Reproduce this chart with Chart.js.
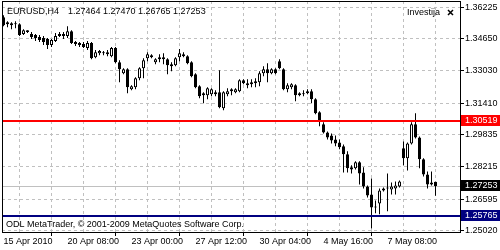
<!DOCTYPE html>
<html>
<head>
<meta charset="utf-8">
<script src="https://cdn.jsdelivr.net/npm/chart.js@4.4.1/dist/chart.umd.min.js"></script>
<style>
  html, body { margin: 0; padding: 0; background: #fff; }
</style>
</head>
<body>
<canvas id="chart" width="500" height="250"></canvas>
<script>
// EURUSD H4 bars, oldest first
const openP = [
  1.3572, 1.3547, 1.3542, 1.3542, 1.3537, 1.3487, 1.3507, 1.3487, 1.3482, 1.3472,
  1.3467, 1.3462, 1.3432, 1.3452, 1.3477, 1.3487, 1.3477, 1.3502, 1.3447, 1.3442,
  1.3437, 1.3417, 1.3442, 1.3371, 1.3391, 1.3396, 1.3396, 1.3376, 1.3417, 1.3346,
  1.3291, 1.3311, 1.3211, 1.3221, 1.3266, 1.3316, 1.3366, 1.3371, 1.3346, 1.3361,
  1.3371, 1.3361, 1.3326, 1.3331, 1.3371, 1.3376, 1.3376, 1.3346, 1.3286, 1.3226,
  1.3190, 1.3180, 1.3185, 1.3185, 1.3195, 1.3115, 1.3185, 1.3201, 1.3195, 1.3201,
  1.3256, 1.3231, 1.3246, 1.3241, 1.3246, 1.3291, 1.3311, 1.3291, 1.3311, 1.3351,
  1.3311, 1.3211, 1.3221, 1.3231, 1.3180, 1.3190, 1.3190, 1.3201, 1.3160, 1.3095,
  1.3035, 1.2994, 1.2979, 1.2959, 1.2944, 1.2924, 1.2884, 1.2819, 1.2814, 1.2844,
  1.2793, 1.2723, 1.2683, 1.2618, 1.2638, 1.2703, 1.2718, 1.2708, 1.2713, 1.2723,
  1.2914, 1.2864, 1.2939, 1.3035, 1.2969, 1.2859, 1.2783, 1.2733, 1.27464
];
const highP = [
  1.3582, 1.3552, 1.3547, 1.3552, 1.3542, 1.3512, 1.3507, 1.3497, 1.3487, 1.3482,
  1.3477, 1.3467, 1.3462, 1.3492, 1.3497, 1.3497, 1.3527, 1.3507, 1.3452, 1.3447,
  1.3447, 1.3452, 1.3447, 1.3407, 1.3407, 1.3402, 1.3407, 1.3422, 1.3422, 1.3356,
  1.3316, 1.3316, 1.3231, 1.3271, 1.3321, 1.3366, 1.3396, 1.3386, 1.3366, 1.3386,
  1.3391, 1.3366, 1.3346, 1.3371, 1.3412, 1.3396, 1.3381, 1.3351, 1.3291, 1.3231,
  1.3195, 1.3221, 1.3216, 1.3206, 1.3306, 1.3201, 1.3216, 1.3216, 1.3216, 1.3261,
  1.3261, 1.3261, 1.3261, 1.3266, 1.3301, 1.3326, 1.3341, 1.3316, 1.3316, 1.3361,
  1.3316, 1.3241, 1.3241, 1.3236, 1.3195, 1.3206, 1.3211, 1.3211, 1.3165, 1.3100,
  1.3045, 1.2999, 1.2989, 1.2979, 1.2959, 1.2934, 1.2899, 1.2829, 1.2849, 1.2849,
  1.2819, 1.2728, 1.2763, 1.2653, 1.2713, 1.2718, 1.2788, 1.2743, 1.2748, 1.2753,
  1.2949, 1.2944, 1.3045, 1.3090, 1.2974, 1.2864, 1.2798, 1.2798, 1.27470
];
const lowP = [
  1.3527, 1.3522, 1.3512, 1.3517, 1.3477, 1.3482, 1.3492, 1.3462, 1.3452, 1.3447,
  1.3432, 1.3412, 1.3422, 1.3447, 1.3472, 1.3462, 1.3467, 1.3437, 1.3427, 1.3422,
  1.3417, 1.3407, 1.3361, 1.3366, 1.3381, 1.3381, 1.3376, 1.3371, 1.3341, 1.3246,
  1.3286, 1.3190, 1.3206, 1.3211, 1.3256, 1.3266, 1.3351, 1.3366, 1.3336, 1.3346,
  1.3336, 1.3286, 1.3301, 1.3326, 1.3351, 1.3371, 1.3336, 1.3271, 1.3216, 1.3165,
  1.3140, 1.3160, 1.3175, 1.3175, 1.3115, 1.3105, 1.3175, 1.3180, 1.3190, 1.3195,
  1.3236, 1.3216, 1.3221, 1.3221, 1.3226, 1.3276, 1.3246, 1.3286, 1.3286, 1.3311,
  1.3206, 1.3195, 1.3211, 1.3150, 1.3175, 1.3175, 1.3185, 1.3140, 1.3085, 1.3025,
  1.2989, 1.2959, 1.2939, 1.2924, 1.2909, 1.2793, 1.2793, 1.2788, 1.2808, 1.2733,
  1.2713, 1.2668, 1.2512, 1.2588, 1.2583, 1.2698, 1.2598, 1.2683, 1.2683, 1.2718,
  1.2829, 1.2803, 1.2934, 1.2964, 1.2814, 1.2773, 1.2713, 1.2728, 1.26765
];
const closeP = [
  1.3532, 1.3537, 1.3532, 1.3537, 1.3482, 1.3507, 1.3497, 1.3472, 1.3467, 1.3457,
  1.3447, 1.3432, 1.3457, 1.3477, 1.3487, 1.3477, 1.3502, 1.3442, 1.3437, 1.3432,
  1.3422, 1.3442, 1.3366, 1.3396, 1.3402, 1.3391, 1.3386, 1.3417, 1.3346, 1.3311,
  1.3311, 1.3221, 1.3226, 1.3266, 1.3316, 1.3356, 1.3386, 1.3381, 1.3361, 1.3371,
  1.3361, 1.3331, 1.3336, 1.3366, 1.3391, 1.3386, 1.3341, 1.3276, 1.3221, 1.3175,
  1.3180, 1.3216, 1.3211, 1.3195, 1.3120, 1.3195, 1.3201, 1.3211, 1.3211, 1.3256,
  1.3241, 1.3241, 1.3236, 1.3251, 1.3291, 1.3311, 1.3291, 1.3311, 1.3291, 1.3316,
  1.3211, 1.3231, 1.3236, 1.3180, 1.3190, 1.3185, 1.3201, 1.3160, 1.3090, 1.3050,
  1.2994, 1.2969, 1.2954, 1.2939, 1.2919, 1.2884, 1.2814, 1.2808, 1.2844, 1.2788,
  1.2723, 1.2678, 1.2618, 1.2623, 1.2703, 1.2713, 1.2713, 1.2723, 1.2728, 1.2748,
  1.2864, 1.2939, 1.3035, 1.2969, 1.2859, 1.2783, 1.2733, 1.2743, 1.27253
];

const xTickLabels = ['15 Apr 2010', '20 Apr 08:00', '23 Apr 00:00', '27 Apr 12:00',
                     '30 Apr 04:00', '4 May 16:00', '7 May 08:00'];
const yTickValues = [1.25020, 1.26595, 1.28215, 1.29835, 1.31410, 1.33030, 1.34650, 1.36225];

const redLevel = 1.30519;
const blueLevel = 1.25765;
const bidPrice = 1.27253;

const titleText = 'EURUSD,H4';
const lastBarText = '1.27464 1.27470 1.26765 1.27253';
const indicatorText = 'Investija';
const copyrightText = 'ODL MetaTrader, \u00a9 2001-2009 MetaQuotes Software Corp.';

const FONT = "9px 'Liberation Sans', Arial, sans-serif";
const GRID = '#c0c0c0';

Chart.defaults.font.family = "'Liberation Sans', Arial, sans-serif";
Chart.defaults.font.size = 9;
Chart.defaults.color = '#000';

const wickData = lowP.map((l, i) => ({ x: i, y: [l, highP[i]] }));
const bodyData = openP.map((o, i) => ({ x: i, y: [o, closeP[i]] }));

const overlay = {
  id: 'overlay',
  beforeDatasetsDraw(chart) {
    const { ctx, chartArea: a, scales: { y } } = chart;
    ctx.save();
    ctx.fillStyle = GRID;
    ctx.fillRect(a.left, Math.round(y.getPixelForValue(bidPrice)), a.right - a.left, 1);
    ctx.restore();
  },
  afterDatasetsDraw(chart) {
    const { ctx, chartArea: a, scales: { y } } = chart;
    ctx.save();
    ctx.fillStyle = '#ff0000';
    ctx.fillRect(a.left, Math.round(y.getPixelForValue(redLevel)) - 1, a.right - a.left, 2);
    ctx.fillStyle = '#000080';
    ctx.fillRect(a.left, Math.round(y.getPixelForValue(blueLevel)) - 1, a.right - a.left, 2);
    ctx.restore();
  },
  afterDraw(chart) {
    const { ctx, chartArea: a, scales: { y } } = chart;
    ctx.save();
    // frame
    ctx.strokeStyle = '#000';
    ctx.lineWidth = 1;
    ctx.strokeRect(a.left + 0.5, a.top + 0.5, a.right - a.left - 1, a.bottom - a.top - 1);

    // price boxes on the right scale
    ctx.font = FONT;
    ctx.textBaseline = 'middle';
    ctx.textAlign = 'left';
    const box = (v, bg) => {
      const py = Math.round(y.getPixelForValue(v));
      ctx.fillStyle = bg;
      ctx.fillRect(a.right, py - 6, chart.width - a.right, 11);
      ctx.fillStyle = '#fff';
      ctx.fillText(v.toFixed(5), a.right + 4, py);
    };
    box(redLevel, '#ff0000');
    box(bidPrice, '#000000');
    box(blueLevel, '#000080');

    // texts inside the chart
    ctx.textBaseline = 'alphabetic';
    ctx.fillStyle = '#000';
    ctx.fillText(titleText, 7, 14);
    ctx.fillText(lastBarText, 68, 14);
    ctx.fillText(indicatorText, 407, 15);
    ctx.fillText(copyrightText, 6, 227);

    // close cross of the indicator label
    ctx.strokeStyle = '#000';
    ctx.lineWidth = 1.5;
    ctx.beginPath();
    ctx.moveTo(448, 10); ctx.lineTo(453, 15);
    ctx.moveTo(453, 10); ctx.lineTo(448, 15);
    ctx.stroke();
    ctx.restore();
  }
};

new Chart(document.getElementById('chart'), {
  type: 'bar',
  data: {
    datasets: [
      {
        label: 'body',
        data: bodyData,
        barThickness: 3,
        grouped: false,
        inflateAmount: 0,
        minBarLength: 1,
        borderWidth: 1,
        borderSkipped: false,
        borderColor: '#000',
        backgroundColor: (c) => (closeP[c.dataIndex] >= openP[c.dataIndex] ? '#fff' : '#000')
      },
      {
        label: 'wick',
        data: wickData,
        barThickness: 1,
        grouped: false,
        inflateAmount: 0,
        minBarLength: 1,
        borderWidth: 0,
        backgroundColor: '#000'
      }
    ]
  },
  options: {
    responsive: false,
    animation: false,
    layout: { padding: { left: 2, top: 1, right: 0, bottom: 0 } },
    plugins: { legend: { display: false }, tooltip: { enabled: false } },
    scales: {
      x: {
        type: 'linear',
        offset: false,
        min: -0.375,
        max: 114.375,
        afterBuildTicks: (s) => {
          const t = [];
          for (let i = 0; i <= 112; i += 8) t.push({ value: i });
          s.ticks = t;
        },
        afterFit: (s) => { s.height = 17; s.paddingLeft = 0; s.paddingRight = 0; },
        border: { display: false, dash: [3, 3] },
        grid: {
          color: (c) => (c.tick && c.tick.value === 0 ? 'rgba(0,0,0,0)' : GRID),
          tickColor: (c) => (c.tick && c.tick.value % 16 === 0 && c.tick.value / 16 < xTickLabels.length ? '#000' : 'rgba(0,0,0,0)'),
          tickLength: 3
        },
        ticks: {
          autoSkip: false,
          maxRotation: 0,
          minRotation: 0,
          align: 'start',
          padding: 0,
          callback: (v) => (v % 16 === 0 && v / 16 < xTickLabels.length ? xTickLabels[v / 16] : '')
        }
      },
      y: {
        position: 'right',
        min: 1.24895,
        max: 1.36531,
        afterBuildTicks: (s) => { s.ticks = yTickValues.map((v) => ({ value: v })); },
        afterFit: (s) => { s.width = 39; s.paddingTop = 0; s.paddingBottom = 0; },
        border: { display: false, dash: [3, 3] },
        grid: { color: GRID, tickColor: '#000', tickLength: 3 },
        ticks: { padding: 1, callback: (v) => v.toFixed(5) }
      }
    }
  },
  plugins: [overlay]
});
</script>
</body>
</html>
